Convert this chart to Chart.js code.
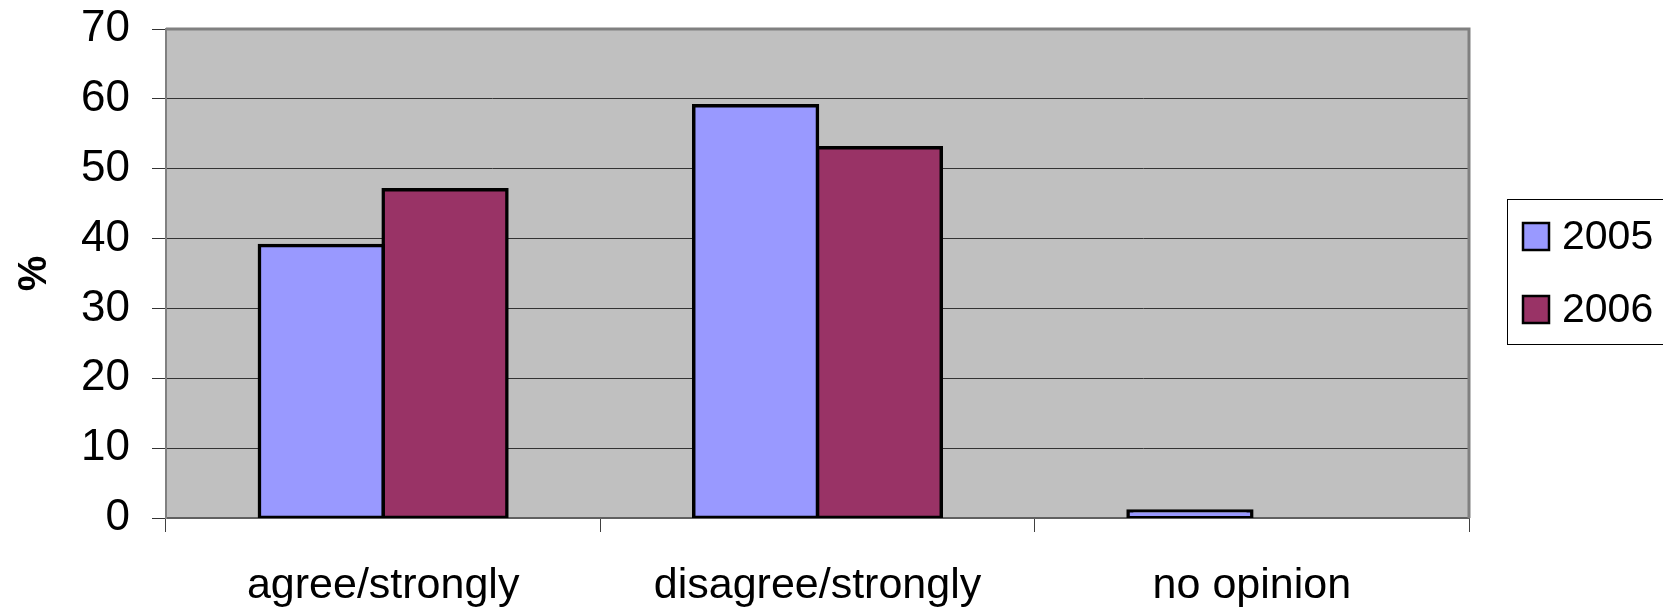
<!DOCTYPE html>
<html>
<head>
<meta charset="utf-8">
<script src="https://cdn.jsdelivr.net/npm/chart.js@4.4.1/dist/chart.umd.min.js"></script>
<style>
  html, body { margin: 0; padding: 0; background: #fff; }
  #wrap { width: 1663px; height: 609px; }
</style>
</head>
<body>
<div id="wrap"><canvas id="encuesta" width="1663" height="609"></canvas></div>
<script>
    let categorias = ["agree/strongly", "disagree/strongly", "no opinion"];
    let anios = ["2005", "2006"];
    let valores2005 = [39, 59, 1];
    let valores2006 = [47, 53, 0];
    let colores = ["#9999FF", "#993366"];
    let yMin = 0, yMax = 70, yPaso = 10;

    let fuente = "'Liberation Sans', Arial, sans-serif";

    // fondo gris y marco del area de dibujo
    let fondoPlot = {
        id: "fondoPlot",
        beforeDraw(chart) {
            let a = chart.chartArea, ctx = chart.ctx;
            ctx.save();
            ctx.fillStyle = "#C0C0C0";
            ctx.fillRect(a.left, a.top, a.right - a.left, a.bottom - a.top);
            ctx.restore();
        },
        beforeDatasetsDraw(chart) {
            let a = chart.chartArea, ctx = chart.ctx;
            ctx.save();
            ctx.strokeStyle = "#808080";
            ctx.lineWidth = 3;
            ctx.beginPath();
            ctx.moveTo(a.left, a.top);
            ctx.lineTo(a.right, a.top);
            ctx.lineTo(a.right, a.bottom);
            ctx.stroke();
            ctx.restore();
        }
    };

    // leyenda con caja, como la original
    let leyenda = {
        id: "leyenda",
        afterDraw(chart) {
            let ctx = chart.ctx;
            ctx.save();
            ctx.strokeStyle = "#000";
            ctx.lineWidth = 1;
            ctx.strokeRect(1507.5, 199.5, 200, 145);
            chart.data.datasets.forEach((ds, i) => {
                let y = 223 + i * 73;
                ctx.fillStyle = ds.backgroundColor;
                ctx.fillRect(1523, y, 26, 27);
                ctx.lineWidth = 2.5;
                ctx.strokeRect(1523, y, 26, 27);
                ctx.fillStyle = "#000";
                ctx.font = "41px " + fuente;
                ctx.textBaseline = "middle";
                ctx.textAlign = "left";
                ctx.fillText(ds.label, 1562, y + 15);
            });
            ctx.restore();
        }
    };

    let ctx = document.getElementById("encuesta").getContext("2d");

    new Chart(ctx, {
        type: "bar",
        data: {
            labels: categorias,
            datasets: [
                { label: anios[0], data: valores2005, backgroundColor: colores[0] },
                { label: anios[1], data: valores2006, backgroundColor: colores[1] }
            ]
        },
        options: {
            responsive: false,
            animation: false,
            devicePixelRatio: 1,
            layout: { padding: { left: 0, top: 29, right: 194, bottom: 0 } },
            datasets: {
                bar: {
                    categoryPercentage: 0.57,
                    barPercentage: 1,
                    borderColor: "#000",
                    borderWidth: 3.5,
                    borderSkipped: false,
                    inflateAmount: 1.75
                }
            },
            plugins: {
                legend: { display: false },
                tooltip: { enabled: false }
            },
            scales: {
                x: {
                    afterFit(s) { s.height = 91; },
                    grid: {
                        offset: true,
                        drawOnChartArea: false,
                        color: "#404040",
                        tickLength: 14
                    },
                    border: { color: "#606060", width: 2 },
                    ticks: {
                        color: "#000",
                        padding: 28,
                        maxRotation: 0,
                        font: { family: fuente, size: 43 }
                    }
                },
                y: {
                    min: yMin,
                    max: yMax,
                    afterFit(s) {
                        s.width = 166;
                        s.paddingTop = 0;
                        s.paddingBottom = 0;
                    },
                    grid: { color: "#333333", lineWidth: 1, tickLength: 14 },
                    border: { color: "#808080", width: 2 },
                    ticks: {
                        stepSize: yPaso,
                        color: "#000",
                        padding: 22,
                        font: { family: fuente, size: 44 }
                    },
                    title: {
                        display: true,
                        text: "%",
                        color: "#000",
                        padding: { top: 11, bottom: 0 },
                        font: { family: fuente, size: 40, weight: "bold" }
                    }
                }
            }
        },
        plugins: [fondoPlot, leyenda]
    });
</script>
</body>
</html>
